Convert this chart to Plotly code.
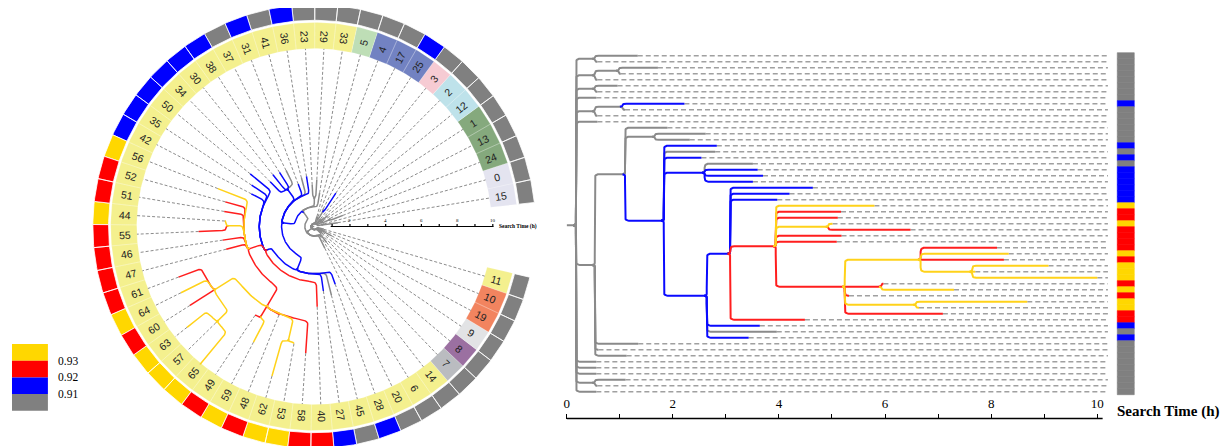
import numpy as np
import plotly.graph_objects as go

# ---------------- data ----------------
leaf_labels = [15, 0, 24, 13, 1, 12, 2, 3, 25, 17, 4, 5, 33, 29, 23, 36, 41, 31, 37, 38,
               30, 34, 50, 35, 42, 56, 52, 51, 44, 55, 46, 47, 61, 64, 60, 63, 57, 65, 49, 59,
               48, 62, 53, 58, 40, 27, 45, 28, 20, 6, 14, 7, 8, 9, 19, 10, 11]
leaf_time = [1.34, 0.58, 1.72, 1.02, 0.58, 0.96, 0.58, 0.56, 2.22, 1.10,
             0.58, 0.58, 1.90, 2.62, 2.32, 2.83, 2.80, 2.54, 3.51, 3.60,
             3.70, 3.51, 4.64, 4.20, 3.97, 5.80, 5.17, 5.11, 5.01, 6.48,
             5.18, 5.09, 8.11, 8.33, 8.24, 9.08, 7.70, 10.0, 5.97, 7.30,
             5.32, 8.68, 6.64, 7.09, 4.49, 3.64, 3.96, 3.43, 1.35, 0.60,
             1.13, 0.56, 0.56, 0.56, 1.11, 0.58, 0.56]
leaf_class = list("gggggggg" "b" "gggggg" "b" "g" "b" "g" "bbbbbb" "y" "rr" "y" "rrrr" "y" "r"
                  "yyy" "r" "y" "r" "yy" "rr" "b" "g" "b" "ggggggggg")
leaf_parent = ["n01", "n01", "nB", "nB", "nA", "n56", "n56", "root", "n89", "n89",
               "n8", "root", "nD", "nF", "nF", "nG", "nG", "nG", "nI", "nI",
               "nI", "nI", "nJ", "nJ", "nJ", "nK", "nK", "nK", "nL", "nL",
               "nK", "nK", "nN", "nN", "nN", "nP", "nP", "nP", "nQ", "nQ",
               "nM", "nR", "nR", "nM", "nJ", "nH", "nH", "nH", "nC", "nC",
               "nC", "root", "root", "root", "n54", "n54", "root"]
leaf_group = (["lav"] * 2 + ["grn"] * 3 + ["lbl"] * 2 + ["pnk"] + ["slb"] * 3 + ["lgn"]
              + ["yel"] * 39 + ["gry", "pur", "lgy", "sal", "sal", "yel"])

node_ids = ["root", "n01", "nA", "nB", "n56", "n8", "n89", "nC", "nD", "nF", "nG",
            "nI", "nH", "nJ", "nK", "nL", "nM", "nN", "nP", "nQ", "nR", "n54"]
node_time = [0.175, 0.53, 0.53, 0.98, 0.53, 0.53, 1.05, 0.53, 1.10, 1.66, 1.83,
             2.60, 2.64, 3.08, 3.94, 4.93, 5.24, 6.67, 7.64, 5.93, 6.58, 0.53]
node_class = ["g", "g", "g", "g", "g", "g", "g", "g", "g", "g", "b",
              "b", "b", "b", "r", "y", "r", "y", "y", "r", "y", "g"]
node_parent = [None, "root", "root", "nA", "root", "root", "n8", "root", "nC", "nD", "nD",
               "nG", "nG", "nH", "nJ", "nK", "nK", "nM", "nN", "nM", "nM", "root"]

class_colors = {"y": "#FFD700", "r": "#FF0000", "b": "#0000FF", "g": "#808080"}
line_colors = {"y": "#FFD21A", "r": "#FF1E1E", "b": "#0A0AFF", "g": "#8A8A8A"}
group_colors = {"lav": "#E4E4F0", "grn": "#85A97D", "lbl": "#BEE2EA", "pnk": "#F6CBD3",
                "slb": "#7282C2", "lgn": "#BEDEB6", "yel": "#F4F08E", "gry": "#BABCC0",
                "pur": "#9B70A1", "lgy": "#E2E3E5", "sal": "#F2845F"}

axis_ticks = list(range(0, 11))
axis_labels = ["0", "", "2", "", "4", "", "6", "", "8", "", "10"]
scale_ticks = list(range(1, 11))
scale_labels = [2, 4, 6, 8, 10]
legend_colors = ["#FFD700", "#FF0000", "#0000FF", "#808080"]
legend_values = ["0.93", "0.92", "0.91"]

# ---------------- page geometry (browser body has an 8px margin) ----------------
OFF = 8
W, H = 1228 - OFF, 446 - OFF


def px_x(px):
    return (px - OFF) / W


def px_y(py):
    return (446 - py) / H


ANG0, DANG = 9.2, 5.975          # degrees of first leaf, step per leaf
R_IN, R_MID, R_OUT = 9.94, 10.62, 11.40
R2_IN, R2_OUT = 11.52, 12.40
DASH_END_RIGHT = 10.2
BAR_X0, BAR_W = 10.376, 0.32
CX, CY, K_C = 312.0, 226.5, 17.9       # circle centre (px) and px per hour
X0_R, K_R = 565.0, 53.2                 # right tree origin (px) and px per hour
ROW0, DROW = 55.7, 6.0                  # first row (px) and row spacing

n_leaf = len(leaf_labels)
children = {k: [] for k in node_ids}
for i, p in enumerate(leaf_parent):
    children[p].append(("leaf", i))
for k, p in zip(node_ids, node_parent):
    if p is not None:
        children[p].append(("node", k))
ntime = dict(zip(node_ids, node_time))
nclass = dict(zip(node_ids, node_class))
nrow = {}


def get_row(kind, key):
    if kind == "leaf":
        return float(key)
    if key in nrow:
        return nrow[key]
    ys = [get_row(k, c) for k, c in children[key]]
    nrow[key] = (min(ys) + max(ys)) / 2
    return nrow[key]


get_row("node", "root")


def qbez(p0, p1, p2, n=9):
    out = []
    for u in np.linspace(0, 1, n):
        out.append(((1 - u) ** 2 * p0[0] + 2 * (1 - u) * u * p1[0] + u ** 2 * p2[0],
                    (1 - u) ** 2 * p0[1] + 2 * (1 - u) * u * p1[1] + u ** 2 * p2[1]))
    return out


def elbow(px, py, cx, cy, rx, ry, rxn, ryn, vstep):
    d = cy - py
    rxa = min(rxn, px * 0.6)
    if abs(d) < 1e-9:
        return [(px - rxa, py), (cx, cy)]
    s = 1 if d > 0 else -1
    ad = abs(d)
    r1 = min(ryn, ad / 2)
    r2 = min(ry, ad / 2)
    rxb = min(rx, max(cx - px, 0) * 0.8)
    pts = qbez((px - rxa, py), (px, py), (px, py + s * r1))
    y0, y1 = py + s * r1, cy - s * r2
    nseg = max(2, int(abs(y1 - y0) / vstep) + 2)
    pts += [(px, y) for y in np.linspace(y0, y1, nseg)][1:]
    pts += qbez((px, y1), (px, cy), (px + rxb, cy))[1:]
    pts.append((cx, cy))
    return pts


def all_edges(rx, ry, rxn, ryn, vstep):
    edges = []
    rt, rr = ntime["root"], nrow["root"]
    edges.append(("g", [(0.0, rr), (rt, rr)]))
    for i, p in enumerate(leaf_parent):
        edges.append((leaf_class[i], elbow(ntime[p], nrow[p], leaf_time[i], i, rx, ry, rxn, ryn, vstep)))
    for k, p in zip(node_ids, node_parent):
        if p is None:
            continue
        edges.append((nclass[k], elbow(ntime[p], nrow[p], ntime[k], nrow[k], rx, ry, rxn, ryn, vstep)))
    return edges


def polar(t, row):
    a = np.radians(ANG0 + DANG * row)
    return t * np.cos(a), t * np.sin(a)


fig = go.Figure()

# ---------------- left: circular tree ----------------
for rin, rout, colkey, lw, lc in [(R_IN, R_OUT, "label", 0.4, "rgba(255,255,255,0.5)"),
                                  (R2_IN, R2_OUT, "class", 0.8, "white")]:
    cells = {}
    for i in range(n_leaf):
        c = group_colors[leaf_group[i]] if colkey == "label" else class_colors[leaf_class[i]]
        a = np.linspace(ANG0 + DANG * (i - 0.5), ANG0 + DANG * (i + 0.5), 8)
        ar = np.radians(a)
        xs = list(rin * np.cos(ar)) + list(rout * np.cos(ar[::-1]))
        ys = list(rin * np.sin(ar)) + list(rout * np.sin(ar[::-1]))
        xs.append(xs[0]); ys.append(ys[0])
        cells.setdefault(c, ([], []))
        cells[c][0].extend(xs + [None]); cells[c][1].extend(ys + [None])
    for c, (xs, ys) in cells.items():
        fig.add_trace(go.Scatter(x=xs, y=ys, xaxis="x2", yaxis="y2", mode="lines",
                                 fill="toself", fillcolor=c, line=dict(color=lc, width=lw),
                                 hoverinfo="skip"))

dx, dy = [], []
for i in range(n_leaf):
    x0, y0 = polar(leaf_time[i], i)
    x1, y1 = polar(R_IN, i)
    dx += [x0, x1, None]; dy += [y0, y1, None]
fig.add_trace(go.Scatter(x=dx, y=dy, xaxis="x2", yaxis="y2", mode="lines",
                         line=dict(color="#8C8C8C", width=1, dash="3px,2px"), hoverinfo="skip"))

cedges = all_edges(rx=0.22, ry=1.1, rxn=0.12, ryn=0.5, vstep=0.2)
for cls in ["g", "b", "r", "y"]:
    xs, ys = [], []
    for c, pts in cedges:
        if c != cls:
            continue
        for t, r in pts:
            X, Y = polar(t, r)
            xs.append(X); ys.append(Y)
        xs.append(None); ys.append(None)
    fig.add_trace(go.Scatter(x=xs, y=ys, xaxis="x2", yaxis="y2", mode="lines",
                             line=dict(color=line_colors[cls], width=1.5),
                             hoverinfo="skip"))

sx = [scale_ticks[0] - 0.08, scale_ticks[-1] + 0.04, None]
sy = [0, 0, None]
for t in scale_ticks:
    sx += [t, t, None]; sy += [0, 0.14, None]
fig.add_trace(go.Scatter(x=sx, y=sy, xaxis="x2", yaxis="y2", mode="lines",
                         line=dict(color="black", width=1.2), hoverinfo="skip"))

annotations = []
for t in scale_labels:
    annotations.append(dict(x=t, y=0.32, xref="x2", yref="y2", text=str(t), showarrow=False,
                            font=dict(family="Liberation Serif", size=5, color="black"),
                            xanchor="center", yanchor="middle"))
annotations.append(dict(x=scale_ticks[-1] + 0.25, y=0.0, xref="x2", yref="y2",
                        text="<b>Search Time (h)</b>", showarrow=False,
                        font=dict(family="Liberation Serif", size=5.5, color="black"),
                        xanchor="left", yanchor="middle"))

for i, lab in enumerate(leaf_labels):
    th = ANG0 + DANG * i
    if 80 < th <= 260:
        ang = 180 - th
    else:
        ang = -th
    ang = (ang + 180) % 360 - 180
    X, Y = polar(R_MID, i)
    annotations.append(dict(x=X, y=Y, xref="x2", yref="y2", text=str(lab), showarrow=False,
                            textangle=ang, xanchor="center", yanchor="middle",
                            font=dict(family="Liberation Sans", size=10.5, color="#222222")))

# ---------------- right: rectangular tree ----------------
rx_, ry_ = [], []
for i in range(n_leaf):
    rx_ += [leaf_time[i], DASH_END_RIGHT, None]; ry_ += [i, i, None]
fig.add_trace(go.Scatter(x=rx_, y=ry_, xaxis="x", yaxis="y", mode="lines",
                         line=dict(color="#A0A0A0", width=1.4, dash="5px,3px"), hoverinfo="skip"))

redges = all_edges(rx=0.075, ry=0.7, rxn=0.045, ryn=0.35, vstep=1.0)
for cls in ["g", "b", "r", "y"]:
    xs, ys = [], []
    for c, pts in redges:
        if c != cls:
            continue
        for t, r in pts:
            xs.append(t); ys.append(r)
        xs.append(None); ys.append(None)
    fig.add_trace(go.Scatter(x=xs, y=ys, xaxis="x", yaxis="y", mode="lines",
                             line=dict(color=line_colors[cls], width=2), hoverinfo="skip"))

strip_cols = [class_colors[c] for c in leaf_class]
fig.add_trace(go.Bar(x=[BAR_W] * n_leaf, y=list(range(n_leaf)), base=BAR_X0, orientation="h",
                     width=1.0, marker=dict(color=strip_cols,
                                            line=dict(width=0.6, color=strip_cols)),
                     xaxis="x", yaxis="y", hoverinfo="skip"))

AXIS_Y = px_y(418.5)
annotations.append(dict(x=px_x(1115), y=px_y(411), xref="paper", yref="paper",
                        text="<b>Search Time (h)</b>", showarrow=False, xanchor="left",
                        yanchor="middle",
                        font=dict(family="Liberation Serif", size=15, color="black")))

shapes = []
box_top, box_h = 344.0, 16.7
for k, c in enumerate(legend_colors):
    y0 = box_top + k * box_h
    shapes.append(dict(type="rect", xref="paper", yref="paper", x0=px_x(9), x1=px_x(45),
                       y0=px_y(y0 + box_h), y1=px_y(y0),
                       fillcolor=c, line=dict(width=0), layer="above"))
for k, v in enumerate(legend_values):
    yc = box_top + (k + 1) * box_h
    annotations.append(dict(x=px_x(53), y=px_y(yc), xref="paper", yref="paper",
                            text=v, showarrow=False, xanchor="left", yanchor="middle",
                            font=dict(family="Liberation Serif", size=11.5, color="black")))

shapes.append(dict(type="line", xref="x", yref="paper", x0=0, x1=10.1, y0=AXIS_Y, y1=AXIS_Y,
                   line=dict(color="black", width=1.4)))

LEFT_END = 560.0
RIGHT_END = 1140.0
fig.update_layout(
    width=W, height=H, margin=dict(l=0, r=0, t=0, b=0),
    paper_bgcolor="white", plot_bgcolor="rgba(0,0,0,0)", showlegend=False,
    xaxis=dict(domain=[px_x(X0_R), px_x(RIGHT_END)], range=[0, (RIGHT_END - X0_R) / K_R],
               anchor="free", position=AXIS_Y, side="top", ticks="outside",
               tickvals=axis_ticks, ticktext=axis_labels, ticklen=5, tickwidth=1.2,
               tickcolor="black", showgrid=False, zeroline=False, showline=False,
               tickfont=dict(family="Liberation Serif", size=13, color="black")),
    yaxis=dict(domain=[0, 1], range=[(446 - ROW0) / DROW, (OFF - ROW0) / DROW],
               visible=False, anchor="x"),
    xaxis2=dict(domain=[0, px_x(LEFT_END)], range=[(OFF - CX) / K_C, (LEFT_END - CX) / K_C],
                visible=False, anchor="y2"),
    yaxis2=dict(domain=[0, 1], range=[(CY - 446) / K_C, (CY - OFF) / K_C],
                visible=False, anchor="x2"),
    annotations=annotations, shapes=shapes,
)

fig.write_html("out.html")
